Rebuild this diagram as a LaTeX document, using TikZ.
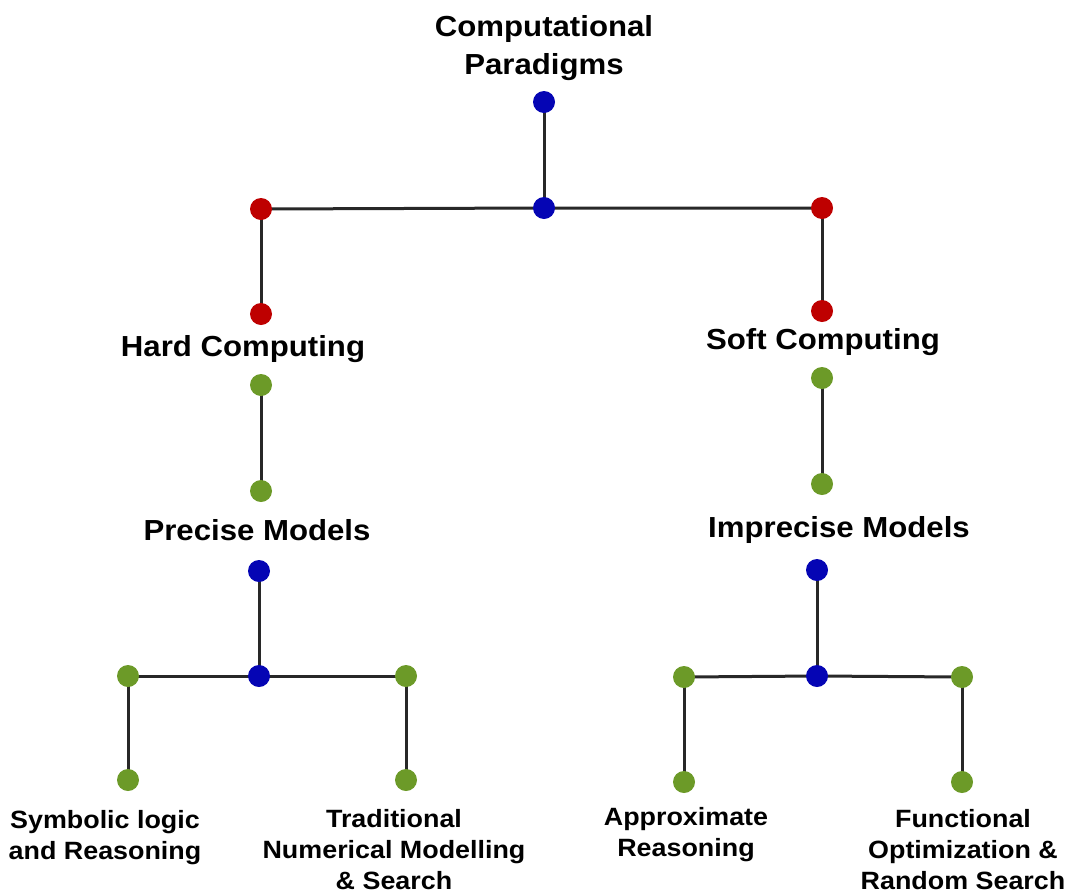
\documentclass[tikz,border=0pt]{standalone}
\usepackage{fontspec}
\setmainfont{Liberation Sans}
\newfontfamily\lblfont[FakeStretch=1.075]{Liberation Sans}
\begin{document}
\begin{tikzpicture}[x={(1pt,0)},y={(0,-1pt)},
  dot/.style={circle,inner sep=0pt,minimum size=22pt},
  bdot/.style={dot,fill=dotblue},
  rdot/.style={dot,fill=dotred},
  gdot/.style={dot,fill=dotgreen},
  link/.style={line width=3pt,draw=linegrey},
  biglabel/.style={font=\lblfont\fontsize{29}{38}\selectfont\bfseries,align=center,inner sep=0pt},
  smalllabel/.style={font=\lblfont\fontsize{25}{31}\selectfont\bfseries,align=center,inner sep=0pt}]
\definecolor{dotblue}{RGB}{5,5,180}
\definecolor{dotred}{RGB}{190,0,0}
\definecolor{dotgreen}{RGB}{108,154,40}
\definecolor{linegrey}{RGB}{40,40,40}
\useasboundingbox (0,0) rectangle (1074,892);
% labels
\node[biglabel] (title) at (544,48) {Computational\\Paradigms};
\node[biglabel] (hard) at (243,349) {Hard Computing};
\node[biglabel] (soft) at (823,342) {Soft Computing};
\node[biglabel] (precise) at (257,530) {Precise Models};
\node[biglabel] (imprecise) at (839,530) {Imprecise Models};
\node[smalllabel] (sym) at (105,838) {Symbolic logic\\and Reasoning};
\node[smalllabel] (trad) at (394,850) {Traditional\\Numerical Modelling\\\& Search};
\node[smalllabel] (approx) at (686,835) {Approximate\\Reasoning};
\node[smalllabel] (func) at (963,850) {Functional\\Optimization \&\\Random Search};
% dot positions
\coordinate (b1) at (544,102);
\coordinate (b2) at (544,208);
\coordinate (r1) at (261,209);
\coordinate (r2) at (822,208);
\coordinate (r3) at (261,314);
\coordinate (r4) at (822,311);
\coordinate (g1) at (261,385);
\coordinate (g2) at (261,491);
\coordinate (g3) at (822,378);
\coordinate (g4) at (822,484);
\coordinate (b3) at (259,571);
\coordinate (b4) at (259,676);
\coordinate (b5) at (817,570);
\coordinate (b6) at (817,676);
\coordinate (g5) at (128,676);
\coordinate (g6) at (406,676);
\coordinate (g7) at (128,780);
\coordinate (g8) at (406,780);
\coordinate (g9) at (684,677);
\coordinate (g10) at (962,677);
\coordinate (g11) at (684,782);
\coordinate (g12) at (962,782);
% connectors
\draw[link] (b1) -- (b2);
\draw[link] (r1) -- (b2) -- (r2);
\draw[link] (r1) -- (r3);
\draw[link] (r2) -- (r4);
\draw[link] (g1) -- (g2);
\draw[link] (g3) -- (g4);
\draw[link] (b3) -- (b4);
\draw[link] (b5) -- (b6);
\draw[link] (g5) -- (b4) -- (g6);
\draw[link] (g9) -- (b6) -- (g10);
\draw[link] (g5) -- (g7);
\draw[link] (g6) -- (g8);
\draw[link] (g9) -- (g11);
\draw[link] (g10) -- (g12);
% dots
\foreach \n in {b1,b2,b3,b4,b5,b6} \node[bdot] at (\n) {};
\foreach \n in {r1,r2,r3,r4} \node[rdot] at (\n) {};
\foreach \n in {g1,g2,g3,g4,g5,g6,g7,g8,g9,g10,g11,g12} \node[gdot] at (\n) {};
\end{tikzpicture}
\end{document}
